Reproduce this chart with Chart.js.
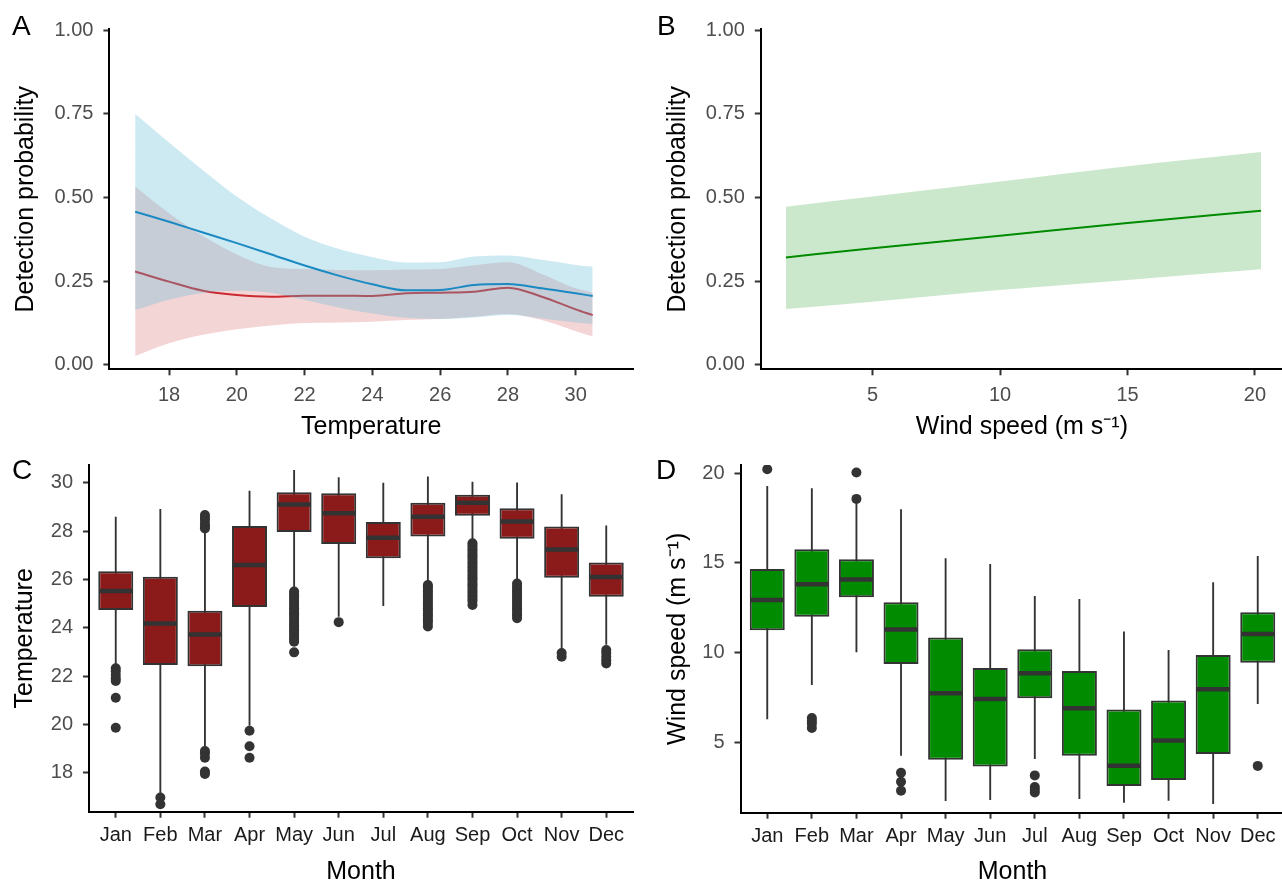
<!DOCTYPE html>
<html>
<head>
<meta charset="utf-8">
<title>Detection probability, temperature and wind speed</title>
<script src="https://cdn.jsdelivr.net/npm/chart.js@4.4.1/dist/chart.umd.min.js"></script>
<style>
  body { margin: 0; background: #fff; }
  #page { position: relative; width: 1282px; height: 880px; overflow: hidden; background: #fff;
          font-family: "Liberation Sans", Arial, sans-serif; }
  #page canvas { position: absolute; }
  .tag { position: absolute; font-size: 28px; line-height: 28px; color: #000; }
</style>
</head>
<body>
<div id="page">
  <canvas id="chartA" width="641" height="450" style="left:0;top:0"></canvas>
  <canvas id="chartB" width="645" height="450" style="left:641px;top:0"></canvas>
  <canvas id="chartC" width="641" height="450" style="left:0;top:440px"></canvas>
  <canvas id="chartD" width="650" height="450" style="left:641px;top:440px"></canvas>
  <div class="tag" style="left:12px;top:12px">A</div>
  <div class="tag" style="left:657px;top:12px">B</div>
  <div class="tag" style="left:12px;top:456px">C</div>
  <div class="tag" style="left:656px;top:456px">D</div>
</div>
<script>
// === Panel A: detection probability vs temperature ===
const TEMP_X     = [17, 18, 19, 20, 21, 22, 23, 24, 25, 26, 27, 28, 29, 30, 30.5];
const BLUE_FIT   = [0.458, 0.428, 0.396, 0.364, 0.331, 0.297, 0.267, 0.241, 0.223, 0.224, 0.239, 0.242, 0.229, 0.214, 0.206];
const BLUE_UPPER = [0.750, 0.665, 0.582, 0.503, 0.438, 0.383, 0.347, 0.322, 0.306, 0.307, 0.324, 0.327, 0.314, 0.299, 0.294];
const BLUE_LOWER = [0.164, 0.195, 0.215, 0.222, 0.216, 0.194, 0.172, 0.154, 0.141, 0.137, 0.142, 0.149, 0.139, 0.127, 0.122];
const RED_FIT    = [0.279, 0.249, 0.222, 0.209, 0.204, 0.207, 0.207, 0.206, 0.214, 0.216, 0.219, 0.231, 0.204, 0.166, 0.149];
const RED_UPPER  = [0.533, 0.453, 0.385, 0.330, 0.293, 0.287, 0.284, 0.283, 0.285, 0.287, 0.298, 0.307, 0.272, 0.229, 0.216];
const RED_LOWER  = [0.027, 0.065, 0.090, 0.107, 0.118, 0.125, 0.127, 0.129, 0.134, 0.137, 0.144, 0.152, 0.134, 0.101, 0.085];
const TEMP_TICKS = [18, 20, 22, 24, 26, 28, 30];
const PROB_TICKS = [0, 0.25, 0.5, 0.75, 1];

// === Panel B: detection probability vs wind speed ===
const WIND_X      = [1.6, 5, 10, 15, 20.24];
const GREEN_FIT   = [0.321, 0.349, 0.386, 0.424, 0.461];
const GREEN_UPPER = [0.473, 0.503, 0.548, 0.594, 0.636];
const GREEN_LOWER = [0.167, 0.189, 0.224, 0.254, 0.286];
const WIND_TICKS  = [5, 10, 15, 20];

// === Panels C & D: monthly boxplots ===
const MONTHS = ["Jan", "Feb", "Mar", "Apr", "May", "Jun", "Jul", "Aug", "Sep", "Oct", "Nov", "Dec"];

const TEMP_LO  = [22.5, 17.1, 19.0, 19.95, 25.6, 24.45, 24.9, 25.85, 27.55, 25.95, 23.1, 23.3];
const TEMP_Q1  = [24.73, 22.46, 22.41, 24.86, 27.96, 27.46, 26.87, 27.77, 28.63, 27.68, 26.07, 25.28];
const TEMP_MED = [25.52, 24.17, 23.72, 26.59, 29.10, 28.73, 27.72, 28.59, 29.17, 28.39, 27.24, 26.10];
const TEMP_Q3  = [26.34, 26.11, 24.70, 28.21, 29.60, 29.56, 28.37, 29.17, 29.50, 28.94, 28.19, 26.70];
const TEMP_HI  = [28.59, 28.91, 28.0, 29.66, 30.52, 30.22, 30.0, 30.25, 30.04, 30.01, 29.52, 28.23];
const TEMP_OUT = [
  [22.32, 22.2, 22.04, 21.9, 21.8, 21.1, 19.86],
  [16.98, 16.7],
  [28.66, 28.55, 28.45, 28.3, 28.2, 28.1, 18.9, 18.8, 18.62, 18.05, 17.95],
  [19.74, 19.1, 18.62],
  [25.5, 25.4, 25.3, 25.2, 25.1, 25.0, 24.9, 24.8, 24.7, 24.6, 24.5, 24.4, 24.3, 24.2, 24.1, 24.0, 23.9, 23.8, 23.7, 23.6, 23.5, 23.42, 22.98],
  [24.23],
  [],
  [25.77, 25.7, 25.6, 25.5, 25.4, 25.3, 25.2, 25.1, 25.0, 24.9, 24.8, 24.7, 24.6, 24.5, 24.4, 24.3, 24.2, 24.05],
  [27.49, 27.4, 27.3, 27.2, 27.1, 27.0, 26.9, 26.8, 26.7, 26.6, 26.5, 26.4, 26.3, 26.2, 26.1, 26.0, 25.9, 25.8, 25.7, 25.6, 25.5, 25.4, 25.3, 25.2, 25.1, 24.94],
  [25.83, 25.7, 25.6, 25.5, 25.4, 25.3, 25.2, 25.1, 25.0, 24.9, 24.8, 24.7, 24.6, 24.5, 24.39],
  [22.95, 22.8],
  [23.08, 22.95, 22.8, 22.65, 22.52]
];
const TEMP_BOX_TICKS = [18, 20, 22, 24, 26, 28, 30];

const WIND_LO  = [6.28, 8.19, 10.02, 4.25, 1.72, 1.78, 4.06, 1.84, 1.63, 1.74, 1.56, 7.13];
const WIND_Q1  = [11.25, 12.0, 13.08, 9.36, 4.02, 3.65, 7.45, 4.25, 2.56, 2.89, 4.34, 9.43];
const WIND_MED = [12.93, 13.81, 14.08, 11.29, 7.73, 7.41, 8.85, 6.89, 3.69, 5.10, 7.95, 11.04];
const WIND_Q3  = [14.66, 15.76, 15.20, 12.80, 10.84, 9.14, 10.19, 8.97, 6.83, 7.33, 9.86, 12.25];
const WIND_HI  = [19.29, 19.16, 18.4, 17.99, 15.26, 14.94, 13.16, 12.99, 11.17, 10.15, 13.92, 15.39];
const WIND_OUT = [
  [20.22], [6.35, 6.2, 6.05, 5.8], [20.04, 18.57], [3.3, 2.8, 2.3],
  [], [], [3.15, 2.5, 2.35, 2.2], [], [], [], [], [3.68]
];
const WIND_BOX_TICKS = [5, 10, 15, 20];

// === Shared styling ===
Chart.defaults.font.family = '"Liberation Sans", Arial, sans-serif';
Chart.defaults.animation = false;

const INK = "#333333";

function xy(xs, ys) {
  return xs.map((x, i) => ({ x: x, y: ys[i] }));
}

// one axis in the ggplot "classic" look: black line, short ticks, no grid
function axis(o) {
  return {
    type: "linear",
    min: o.min,
    max: o.max,
    offset: false,
    afterBuildTicks: s => { s.ticks = o.ticks.map(v => ({ value: v })); },
    afterFit: s => { if (o.horizontal) s.height = o.size; else s.width = o.size; },
    border: { display: true, color: "#000", width: 2 },
    grid: { display: true, offset: false, drawOnChartArea: false, drawTicks: true, tickLength: 6, tickWidth: 2, tickColor: INK },
    ticks: {
      autoSkip: false, maxRotation: 0, padding: o.tickPad,
      color: o.labelColor || "#4d4d4d", font: { size: 20 },
      callback: o.fmt
    },
    title: { display: true, text: o.title, color: "#000", font: { size: 25 }, padding: o.titlePad }
  };
}

function baseOptions(padding, x, y) {
  return {
    responsive: false,
    animation: false,
    layout: { padding: padding, autoPadding: false },
    plugins: { legend: { display: false }, tooltip: { enabled: false } },
    elements: { point: { radius: 0 }, line: { borderWidth: 2, cubicInterpolationMode: "monotone" } },
    scales: { x: x, y: y }
  };
}

const probFmt = v => Number(v).toFixed(2);

// === Panel A ===
new Chart(document.getElementById("chartA"), {
  type: "line",
  data: {
    datasets: [
      { data: xy(TEMP_X, BLUE_FIT), borderColor: "#1b8ac3", fill: false, order: 0 },
      { data: xy(TEMP_X, BLUE_UPPER), borderWidth: 0, borderColor: "rgba(0,0,0,0)", backgroundColor: "rgba(88,185,215,0.3)", fill: "+1", order: 1 },
      { data: xy(TEMP_X, BLUE_LOWER), borderWidth: 0, borderColor: "rgba(0,0,0,0)", fill: false, order: 1 },
      { data: xy(TEMP_X, RED_FIT), borderColor: "#cc2a30", fill: false, order: 2 },
      { data: xy(TEMP_X, RED_UPPER), borderWidth: 0, borderColor: "rgba(0,0,0,0)", backgroundColor: "rgba(218,115,118,0.3)", fill: "+1", order: 3 },
      { data: xy(TEMP_X, RED_LOWER), borderWidth: 0, borderColor: "rgba(0,0,0,0)", fill: false, order: 3 }
    ]
  },
  options: baseOptions(
    { top: 29.3, right: 8, left: 0, bottom: 0 },
    axis({ horizontal: true, min: 16.24, max: 31.69, ticks: TEMP_TICKS, size: 80.7, tickPad: 8,
           title: "Temperature", titlePad: { top: 0, bottom: 8 } }),
    axis({ min: -0.013, max: 1.003, ticks: PROB_TICKS, size: 109.4, tickPad: 10, fmt: probFmt,
           title: "Detection probability", titlePad: { top: 11, bottom: 0 } })
  )
});

// === Panel B ===
new Chart(document.getElementById("chartB"), {
  type: "line",
  data: {
    datasets: [
      { data: xy(WIND_X, GREEN_FIT), borderColor: "#008b00", fill: false, order: 0 },
      { data: xy(WIND_X, GREEN_UPPER), borderWidth: 0, borderColor: "rgba(0,0,0,0)", backgroundColor: "rgba(0,139,0,0.2)", fill: "+1", order: 1 },
      { data: xy(WIND_X, GREEN_LOWER), borderWidth: 0, borderColor: "rgba(0,0,0,0)", fill: false, order: 1 }
    ]
  },
  options: baseOptions(
    { top: 29.3, right: 3, left: 0, bottom: 0 },
    axis({ horizontal: true, min: 0.614, max: 21.1, ticks: WIND_TICKS, size: 80.7, tickPad: 8,
           title: "Wind speed (m s\u207B\u00B9)", titlePad: { top: 0, bottom: 8 } }),
    axis({ min: -0.013, max: 1.003, ticks: PROB_TICKS, size: 119.8, tickPad: 10, fmt: probFmt,
           title: "Detection probability", titlePad: { top: 22, bottom: 0 } })
  )
});

// === Boxplot helper (C, D) ===
function boxChart(id, s) {
  const pos = MONTHS.map((m, i) => i + 1);
  const outliers = [];
  s.out.forEach((list, i) => list.forEach(v => outliers.push({ x: i + 1, y: v })));

  new Chart(document.getElementById(id), {
    type: "bar",
    data: {
      datasets: [
        { type: "bar", data: pos.map((x, i) => ({ x: x, y: [s.lo[i], s.hi[i]] })),
          backgroundColor: INK, borderWidth: 0, grouped: false, categoryPercentage: 1, barPercentage: 0.042, order: 3 },
        { type: "bar", data: pos.map((x, i) => ({ x: x, y: [s.q1[i], s.q3[i]] })),
          backgroundColor: s.fill, borderColor: INK, borderWidth: 2, borderSkipped: false,
          grouped: false, categoryPercentage: 1, barPercentage: 0.785, order: 2 },
        { type: "scatter", data: pos.map((x, i) => ({ x: x, y: s.med[i] })),
          pointStyle: "line", pointRadius: 16.5, pointBorderColor: INK, pointBorderWidth: 4.5, order: 1 },
        { type: "scatter", data: outliers,
          pointRadius: 5, pointBackgroundColor: INK, pointBorderWidth: 0, order: 0 }
      ]
    },
    options: baseOptions(
      s.padding,
      axis({ horizontal: true, min: 0.4, max: 12.6, ticks: pos, size: s.xSize, tickPad: 6,
             labelColor: "#1a1a1a", fmt: v => MONTHS[v - 1],
             title: "Month", titlePad: { top: 0, bottom: 3 } }),
      axis({ min: s.min, max: s.max, ticks: s.ticks, size: s.ySize, tickPad: 10,
             title: s.title, titlePad: { top: s.titleLeft, bottom: 0 } })
    )
  });
}

boxChart("chartC", {
  lo: TEMP_LO, q1: TEMP_Q1, med: TEMP_MED, q3: TEMP_Q3, hi: TEMP_HI, out: TEMP_OUT,
  fill: "#8b1a1a", min: 16.39, max: 30.73, ticks: TEMP_BOX_TICKS, title: "Temperature",
  padding: { top: 25, right: 8, left: 0, bottom: 0 }, xSize: 78.3, ySize: 89, titleLeft: 10
});

boxChart("chartD", {
  lo: WIND_LO, q1: WIND_Q1, med: WIND_MED, q3: WIND_Q3, hi: WIND_HI, out: WIND_OUT,
  fill: "#008b00", min: 1.07, max: 20.46, ticks: WIND_BOX_TICKS, title: "Wind speed (m s\u207B\u00B9)",
  padding: { top: 25, right: 6.5, left: 0, bottom: 0 }, xSize: 77.3, ySize: 99.5, titleLeft: 22
});
</script>
</body>
</html>
